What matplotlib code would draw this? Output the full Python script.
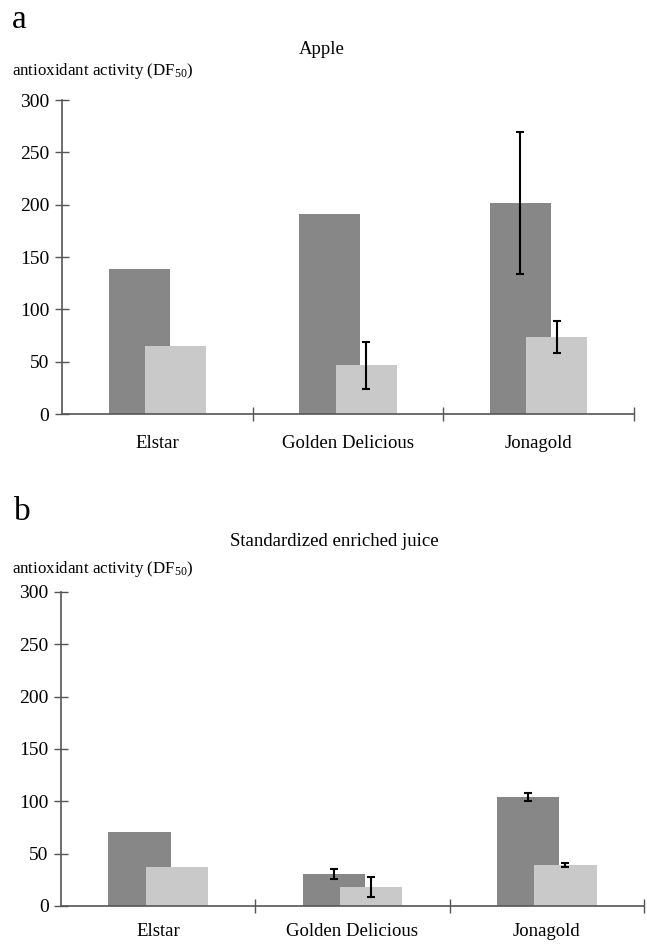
import matplotlib
matplotlib.use("Agg")
import matplotlib.pyplot as plt
import numpy as np

plt.rcParams['font.family'] = ['Liberation Serif', 'DejaVu Serif']
plt.rcParams['mathtext.fontset'] = 'custom'
plt.rcParams['mathtext.rm'] = 'Liberation Serif'
plt.rcParams['mathtext.it'] = 'Liberation Serif:italic'

cultivars = ["Elstar", "Golden Delicious", "Jonagold"]
yticks = [0, 50, 100, 150, 200, 250, 300]

# panel a: apple
apple_dark = [138.5, 191.5, 201.5]
apple_dark_err = [0, 0, 68]
apple_light = [65, 46.5, 73.5]
apple_light_err = [0, 22.5, 15]

# panel b: standardized enriched juice
juice_dark = [71, 30.5, 104]
juice_dark_err = [0, 5, 4]
juice_light = [37, 18.5, 39]
juice_light_err = [0, 9.5, 2]

dark_col = "#878787"
light_col = "#c9c9c9"
axis_col = "#555555"

fig = plt.figure(figsize=(6.47, 9.44), dpi=100)
ax_a = fig.add_axes([0.0958, 0.5614, 0.884, 0.3326])
ax_b = fig.add_axes([0.0943, 0.0403, 0.901, 0.3326])


def draw_panel(ax, dark, dark_err, light, light_err, label_pad):
    x = np.arange(len(cultivars))
    off = 0.096
    w = 0.32
    ax.bar(x - off, dark, width=w, color=dark_col, zorder=2)
    ax.bar(x + off, light, width=w, color=light_col, zorder=3)
    for xs, vals, errs in ((x - off, dark, dark_err), (x + off, light, light_err)):
        keep = [i for i, e in enumerate(errs) if e > 0]
        if keep:
            ax.errorbar([xs[i] for i in keep], [vals[i] for i in keep],
                        yerr=[errs[i] for i in keep], fmt="none", ecolor="black",
                        elinewidth=1.5, capsize=3, capthick=1.5, zorder=4)
    ax.set_xlim(-0.5, 2.5)
    ax.set_ylim(0, 300)
    ax.set_yticks(yticks)
    ax.set_xticks(x)
    ax.set_xticklabels(cultivars, fontsize=13.5)
    ax.set_xticks([0.5, 1.5, 2.5], minor=True)
    ax.tick_params(axis="x", which="major", length=0, pad=label_pad)
    ax.tick_params(axis="x", which="minor", length=10, direction="inout",
                   width=1, color=axis_col)
    ax.tick_params(axis="y", length=10, direction="inout", width=1,
                   color=axis_col, labelsize=14, pad=4)
    for s in ("top", "right"):
        ax.spines[s].set_visible(False)
    for s in ("left", "bottom"):
        ax.spines[s].set_color(axis_col)
        ax.spines[s].set_linewidth(1.2)
        ax.spines[s].set_zorder(5)


draw_panel(ax_a, apple_dark, apple_dark_err, apple_light, apple_light_err, 15)
draw_panel(ax_b, juice_dark, juice_dark_err, juice_light, juice_light_err, 12)

fig.text(0.019, 1 - 20 / 944, "a", fontsize=24, va="center", ha="left")
fig.text(322 / 647, 1 - 50 / 944, "Apple", fontsize=13.5, va="center", ha="center")
fig.text(0.019, 1 - 71 / 944, "antioxidant activity (DF$_{50}$)", fontsize=12.2,
         va="center", ha="left")

fig.text(0.022, 1 - 512 / 944, "b", fontsize=24, va="center", ha="left")
fig.text(334 / 647, 1 - 542 / 944, "Standardized enriched juice", fontsize=13.5,
         va="center", ha="center")
fig.text(0.019, 1 - 569 / 944, "antioxidant activity (DF$_{50}$)", fontsize=12.2,
         va="center", ha="left")

fig.savefig("out.png", dpi=100)
